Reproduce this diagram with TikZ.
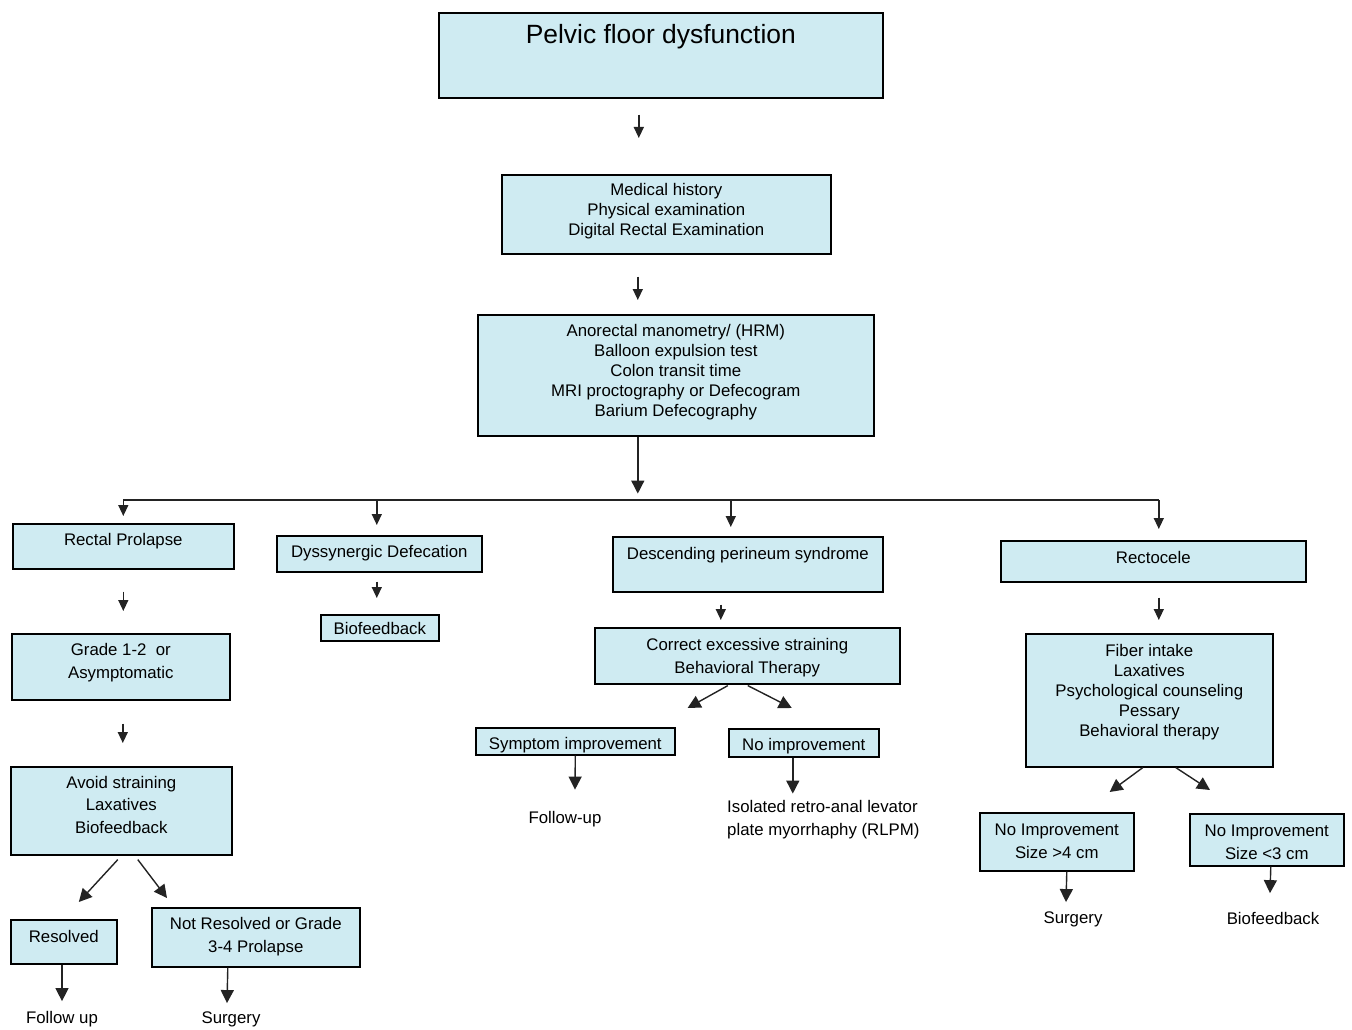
\documentclass[tikz,border=0pt]{standalone}
\usepackage{fontspec}
\setmainfont{Liberation Sans}
\usetikzlibrary{arrows.meta}
\definecolor{boxblue}{RGB}{207,235,242}
\definecolor{inkgray}{RGB}{35,35,35}
\newcommand{\bodyfont}{\fontsize{16.8}{20}\selectfont}
\newcommand{\roomyfont}{\fontsize{16.8}{22.5}\selectfont}
\tikzset{
  box/.style={draw=black, fill=boxblue, line width=1.6pt, inner sep=0pt, align=center, anchor=north west, font=\bodyfont},
  roomy/.style={font=\roomyfont},
  plain/.style={inner sep=0pt, font=\bodyfont},
  arr/.style={draw=inkgray, line width=1.4pt, -{Triangle[width=10pt,length=11pt]}},
  bigarr/.style={draw=inkgray, line width=1.4pt, -{Triangle[width=13pt,length=13pt]}},
}
\begin{document}
\begin{tikzpicture}[x=1pt, y=-1pt]
\useasboundingbox (0,0) rectangle (1352,1030);

\node[box, minimum width=444pt, text height=31pt, text depth=54pt, font=\fontsize{26.4}{30}\selectfont] (pelvic) at (438,12) {Pelvic floor dysfunction};
\node[box, minimum width=329pt, text height=60.5pt, text depth=18.5pt] (history) at (501,174) {Medical history\\Physical examination\\Digital Rectal Examination};
\node[box, minimum width=396pt, text height=101.5pt, text depth=19.5pt] (tests) at (477,314) {Anorectal manometry/ (HRM)\\Balloon expulsion test\\Colon transit time\\MRI proctography or Defecogram\\Barium Defecography};

\node[box, minimum width=221pt, text height=21.5pt, text depth=23.5pt] (prolapse) at (12,523) {Rectal Prolapse};
\node[box, roomy, minimum width=218pt, text height=44.5pt, text depth=21.5pt] (grade) at (11,633) {Grade 1-2\ \ or\\Asymptomatic};
\node[box, roomy, minimum width=221pt, text height=66.5pt, text depth=21.5pt] (avoid) at (10,766) {Avoid straining\\Laxatives\\Biofeedback};
\node[box, minimum width=106pt, text height=22.5pt, text depth=21.5pt] (resolved) at (10,919) {Resolved};
\node[box, roomy, minimum width=208pt, text height=44.5pt, text depth=14.5pt] (notresolved) at (151,907) {Not Resolved or Grade\\3-4 Prolapse};

\node[box, minimum width=205pt, text height=21.5pt, text depth=14.5pt] (dyssynergic) at (276,535) {Dyssynergic Defecation};
\node[box, minimum width=118pt, text height=19.5pt, text depth=6.5pt] (biofb) at (320,614) {Biofeedback};

\node[box, minimum width=270pt, text height=22.5pt, text depth=32.5pt] (perineum) at (612,536) {Descending perineum syndrome};
\node[box, roomy, minimum width=305pt, text height=45.5pt, text depth=10.5pt] (straining) at (594,627) {Correct excessive straining\\Behavioral Therapy};
\node[box, minimum width=199pt, text height=21.5pt, text depth=5.5pt] (symptom) at (475,727) {Symptom improvement};
\node[box, minimum width=150pt, text height=21.5pt, text depth=6.5pt] (noimpr) at (728,728) {No improvement};

\node[box, minimum width=305pt, text height=22.5pt, text depth=18.5pt] (rectocele) at (1000,540) {Rectocele};
\node[box, minimum width=247pt, text height=102.5pt, text depth=30.5pt] (fiber) at (1025,633) {Fiber intake\\Laxatives\\Psychological counseling\\Pessary\\Behavioral therapy};
\node[box, roomy, minimum width=154pt, text height=45.5pt, text depth=12.5pt] (largesize) at (979,812) {No Improvement\\Size >4 cm};
\node[box, roomy, minimum width=154pt, text height=45.5pt, text depth=6.5pt] (smallsize) at (1189,813) {No Improvement\\Size <3 cm};

\node[plain, anchor=base] (followA) at (62,1023.5) {Follow up};
\node[plain, anchor=base] (surgeryA) at (231,1023.5) {Surgery};
\node[plain, anchor=base] (followB) at (565,823.5) {Follow-up};
\node[plain, anchor=north west, align=left, font=\roomyfont] (rlpm) at (727,800.5) {Isolated retro-anal levator\\plate myorrhaphy (RLPM)};
\node[plain, anchor=base] (surgeryB) at (1073,923.5) {Surgery};
\node[plain, anchor=base] (biofbB) at (1273,924.5) {Biofeedback};

\draw[arr] ([xshift=-22pt,yshift=-16pt]pelvic.south) -- ([xshift=-27.5pt,yshift=36pt]history.north);
\draw[arr] ([xshift=-28.5pt,yshift=-22pt]history.south) -- ([xshift=-38pt,yshift=14pt]tests.north);

\coordinate (busL) at ([yshift=23pt]prolapse.north);
\coordinate (busM) at ([xshift=-38pt,yshift=-65pt]tests.south);
\coordinate (busR) at ([xshift=5.5pt,yshift=40pt]rectocele.north);
\draw[draw=inkgray, line width=1.9pt] (busL) -- (busR);
\draw[bigarr] ([xshift=-38pt]tests.south) -- ([yshift=8pt]busM);
\draw[arr] (busL) -- ([yshift=7pt]prolapse.north);
\draw[arr] ([xshift=-2.5pt,yshift=35pt]dyssynergic.north) -- ([xshift=-2.5pt,yshift=10pt]dyssynergic.north);
\draw[arr] ([xshift=-17pt,yshift=36pt]perineum.north) -- ([xshift=-17pt,yshift=9pt]perineum.north);
\draw[arr] (busR) -- ([xshift=5.5pt,yshift=11pt]rectocele.north);

\draw[arr] ([yshift=-22pt]prolapse.south) -- ([xshift=2.5pt,yshift=22pt]grade.north);
\draw[arr] ([xshift=2pt,yshift=-23pt]grade.south) -- ([xshift=1.5pt,yshift=23pt]avoid.north);
\draw[bigarr] ([xshift=-3.5pt,yshift=-4pt]avoid.south) -- ([xshift=15pt,yshift=17pt]resolved.north);
\draw[bigarr] ([xshift=16.5pt,yshift=-4pt]avoid.south) -- ([xshift=16pt,yshift=9pt]notresolved.north west);
\draw[bigarr] (resolved.south -| followA.north) -- ([yshift=10pt]followA.north);
\draw[bigarr] ([xshift=-28pt]notresolved.south) -- ([xshift=-4pt,yshift=8.5pt]surgeryA.north);

\draw[arr] ([xshift=-2.5pt,yshift=-9pt]dyssynergic.south) -- ([xshift=-3pt,yshift=16pt]biofb.north);

\draw[arr] ([xshift=-27pt,yshift=-12pt]perineum.south) -- ([xshift=-26.5pt,yshift=7pt]straining.north);
\draw[bigarr] ([xshift=-19.5pt,yshift=-1pt]straining.south) -- ([xshift=12pt,yshift=19pt]symptom.north east);
\draw[bigarr] ([xshift=0.5pt,yshift=-1pt]straining.south) -- ([xshift=-12pt,yshift=20pt]noimpr.north);
\draw[bigarr] (symptom.south) -- ([xshift=10pt,yshift=21.5pt]followB.north);
\draw[bigarr] ([xshift=-11pt]noimpr.south) -- ([xshift=-11pt,yshift=-36pt]noimpr.south);

\draw[arr] ([xshift=5.5pt,yshift=-15pt]rectocele.south) -- ([xshift=9.5pt,yshift=13pt]fiber.north);
\draw[bigarr] ([xshift=-6.5pt]fiber.south) -- ([xshift=-25pt,yshift=20pt]largesize.north east);
\draw[bigarr] ([xshift=26.5pt]fiber.south) -- ([xshift=21pt,yshift=23pt]smallsize.north west);
\draw[bigarr] ([xshift=10pt]largesize.south) -- ([xshift=-7pt,yshift=9.5pt]surgeryB.north);
\draw[bigarr] ([xshift=4pt]smallsize.south) -- ([xshift=-3pt,yshift=19pt]biofbB.north);
\end{tikzpicture}
\end{document}
